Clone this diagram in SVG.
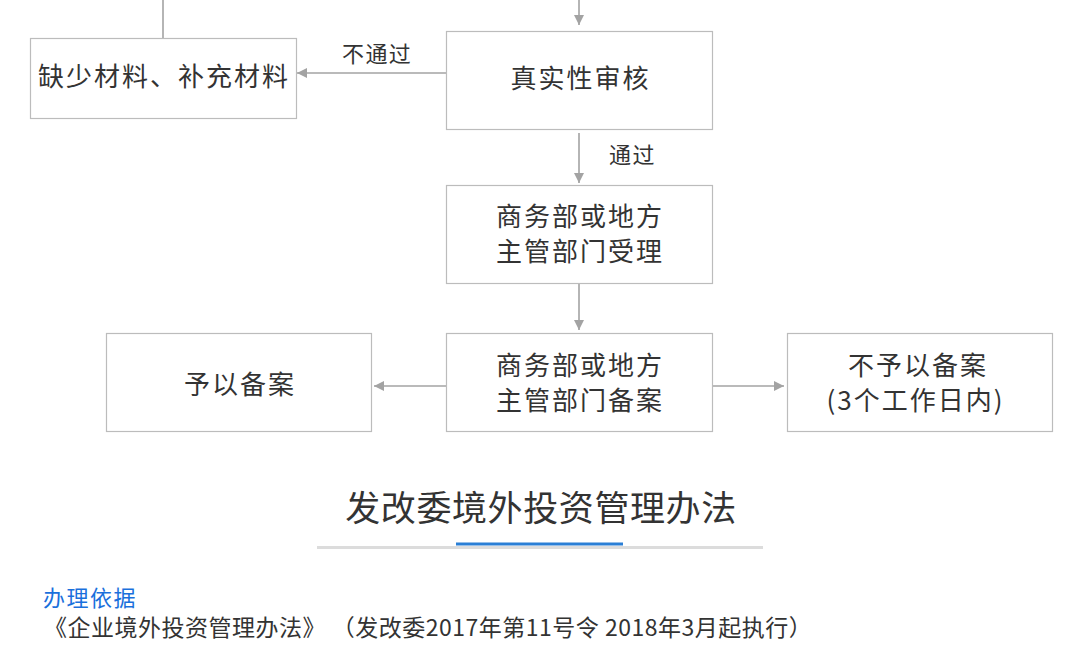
<svg xmlns="http://www.w3.org/2000/svg" width="1080" height="669" viewBox="0 0 1080 669">
<style>
.box{fill:#fff;stroke:#bcbcbc;stroke-width:1.2}
.t{font-family:"Noto Sans CJK SC","Noto Sans",sans-serif;fill:#333;font-size:26px;letter-spacing:2px;text-anchor:middle}
.lbl{font-family:"Noto Sans CJK SC","Noto Sans",sans-serif;fill:#333;font-size:22px;letter-spacing:1.4px}
.c{stroke:#a3a3a3;stroke-width:1.6;fill:none}
</style>
<defs>
<marker id="ah" viewBox="0 0 10 10" refX="10" refY="5" markerWidth="10" markerHeight="11" markerUnits="userSpaceOnUse" orient="auto">
<path d="M0,0 L10,5 L0,10 Z" fill="#a3a3a3"/>
</marker>
</defs>
<rect width="1080" height="669" fill="#fff"/>
<g id="connectors">
<line class="c" x1="163" y1="0" x2="163" y2="38"/>
<line class="c" x1="579" y1="0" x2="579" y2="25" marker-end="url(#ah)"/>
<line class="c" x1="446" y1="73" x2="297" y2="73" marker-end="url(#ah)"/>
<text class="lbl" x="342" y="62">不通过</text>
<line class="c" x1="579" y1="133" x2="579" y2="183" marker-end="url(#ah)"/>
<text class="lbl" x="609" y="163">通过</text>
<line class="c" x1="579" y1="284" x2="579" y2="330" marker-end="url(#ah)"/>
<line class="c" x1="446" y1="386" x2="374" y2="386" marker-end="url(#ah)"/>
<line class="c" x1="712" y1="386" x2="784" y2="386" marker-end="url(#ah)"/>
</g>
<g id="n-missing">
<rect class="box" x="30.5" y="38.5" width="266" height="80"/>
<text class="t" x="164" y="86">缺少材料、补充材料</text>
</g>
<g id="n-verify">
<rect class="box" x="446.5" y="31.5" width="266" height="98"/>
<text class="t" x="580.5" y="88">真实性审核</text>
</g>
<g id="n-accept">
<rect class="box" x="446.5" y="185.5" width="266" height="98"/>
<text class="t"><tspan x="580" y="226">商务部或地方</tspan><tspan x="580" y="261">主管部门受理</tspan></text>
</g>
<g id="n-record">
<rect class="box" x="446.5" y="333.5" width="266" height="98"/>
<text class="t"><tspan x="580" y="375">商务部或地方</tspan><tspan x="580" y="410">主管部门备案</tspan></text>
</g>
<g id="n-yes">
<rect class="box" x="106.5" y="333.5" width="265" height="98"/>
<text class="t" x="240" y="394">予以备案</text>
</g>
<g id="n-no">
<rect class="box" x="787.5" y="333.5" width="265" height="98"/>
<text class="t"><tspan x="918" y="375">不予以备案</tspan><tspan x="915.5" y="410">(3个工作日内)</tspan></text>
</g>
<g id="footer">
<text x="541" y="521" font-family="'Noto Sans CJK SC','Noto Sans',sans-serif" font-size="35" letter-spacing="0.6" fill="#333" text-anchor="middle">发改委境外投资管理办法</text>
<rect x="317" y="546" width="446" height="3" fill="#dcdcdc"/>
<rect x="456" y="542.5" width="167" height="3" fill="#2a7fd6"/>
<text x="43" y="606" font-family="'Noto Sans CJK SC','Noto Sans',sans-serif" font-size="22" letter-spacing="1.5" fill="#1a70dc">办理依据</text>
<text x="44" y="636" font-family="'Noto Sans CJK SC','Noto Sans',sans-serif" font-size="23" letter-spacing="0.5" fill="#333">《企业境外投资管理办法》 （发改委2017年第11号令 2018年3月起执行）</text>
</g>
</svg>
